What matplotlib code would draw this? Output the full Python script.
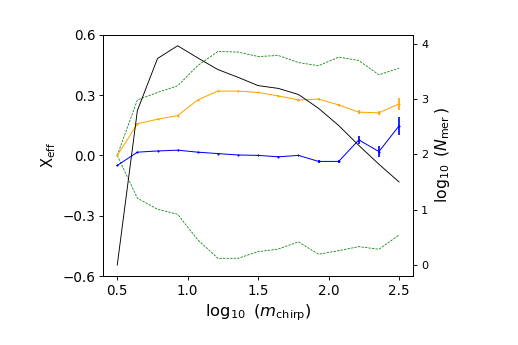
import matplotlib
matplotlib.use("Agg")
import matplotlib.pyplot as plt
import numpy as np

# log10 m_chirp bins
mchirp = np.linspace(0.5, 2.5, 15)

# median chi_eff (blue) med feil
chi_blue = [-0.05, 0.016, 0.022, 0.026, 0.016, 0.009, 0.002, 0.0, -0.007, 0.0,
            -0.03, -0.03, 0.077, 0.019, 0.147]
err_blue = [0.002, 0.003, 0.002, 0.002, 0.002, 0.002, 0.002, 0.003, 0.003, 0.004,
            0.008, 0.008, 0.02, 0.027, 0.044]

# gjennomsnitt (orange)
chi_orange = [0.0, 0.157, 0.18, 0.198, 0.276, 0.32, 0.32, 0.313, 0.296, 0.276,
              0.28, 0.251, 0.215, 0.212, 0.256]
err_orange = [0.002, 0.002, 0.002, 0.002, 0.002, 0.002, 0.002, 0.003, 0.003, 0.004,
              0.005, 0.007, 0.01, 0.011, 0.03]

# spredning (green)
chi_upper = [0.0, 0.276, 0.313, 0.346, 0.447, 0.517, 0.514, 0.492, 0.497, 0.462,
             0.446, 0.489, 0.472, 0.401, 0.434]
chi_lower = [0.0, -0.213, -0.268, -0.293, -0.42, -0.512, -0.512, -0.479, -0.466, -0.43,
             -0.492, -0.474, -0.454, -0.467, -0.396]

# log10 antall sammensmeltinger (black)
log_nmer = [0.0, 2.79, 3.73, 3.96, 3.74, 3.53, 3.39, 3.24, 3.19, 3.08,
            2.83, 2.52, 2.16, 1.82, 1.50]

fig = plt.figure(figsize=(6.4, 4.26), dpi=81)
ax = fig.add_axes([0.199, 0.2, 0.598, 0.699])

ax.plot(mchirp, chi_upper, color="green", linestyle="--", linewidth=0.7, dashes=(3, 1.5))
ax.plot(mchirp, chi_lower, color="green", linestyle="--", linewidth=0.7, dashes=(3, 1.5))
ax.errorbar(mchirp, chi_orange, yerr=err_orange, color="orange", linewidth=0.9,
            marker="+", markersize=2.5, elinewidth=1.5)
ax.errorbar(mchirp, chi_blue, yerr=err_blue, color="blue", linewidth=0.9,
            marker="+", markersize=2.5, elinewidth=1.5)

ax.set_ylim(-0.6, 0.6)
ax.set_yticks([-0.6, -0.3, 0.0, 0.3, 0.6])
ax.set_xticks([0.5, 1.0, 1.5, 2.0, 2.5])
ax.tick_params(labelsize=12)
ax.set_ylabel(r"X$_{\rm eff}$", fontsize=13)
ax.set_xlabel(r"$\log_{10}\ (m_{\rm chirp})$", fontsize=14.5)

ax2 = ax.twinx()
ax2.plot(mchirp, log_nmer, color="black", linewidth=0.8)
ax2.set_yticks([0, 1, 2, 3, 4])
ax2.set_ylabel(r"$\log_{10}\ (N_{\rm mer}\,)$", fontsize=14)

fig.savefig("out.png", dpi=81)
